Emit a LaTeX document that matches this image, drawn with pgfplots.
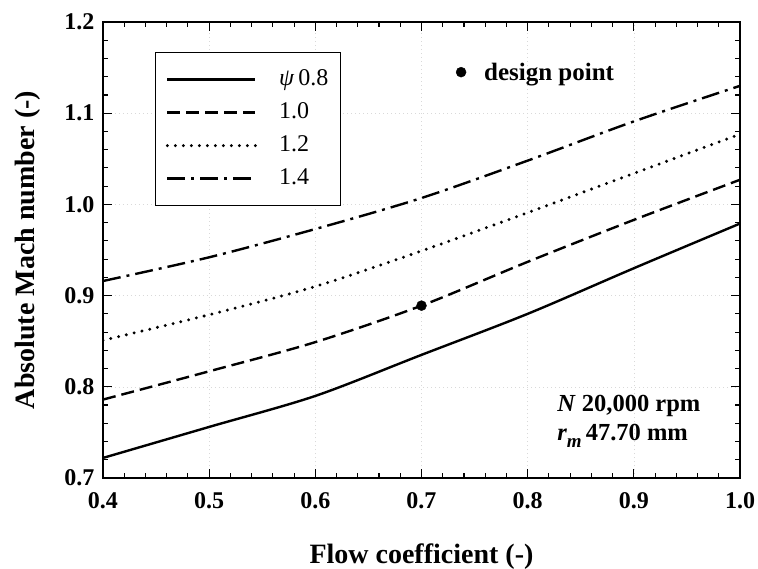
\documentclass[border=0pt]{standalone}
\usepackage{pgfplots}
\pgfplotsset{compat=1.18}
\usepackage{fontspec}
\setmainfont{Liberation Serif}

\newcommand{\tickfont}{\fontsize{24}{28}\selectfont\bfseries}
\newcommand{\labelfont}{\fontsize{28}{32}\selectfont\bfseries}

\begin{document}
\begin{tikzpicture}[x=1pt,y=1pt]
\useasboundingbox (-103,-90) rectangle (655,478);
\begin{axis}[
  at={(0,0)}, anchor=south west,
  scale only axis, width=637pt, height=456pt,
  xmin=0.4, xmax=1.0, ymin=0.7, ymax=1.2,
  xtick={0.4,0.5,0.6,0.7,0.8,0.9,1.0},
  ytick={0.7,0.8,0.9,1.0,1.1,1.2},
  minor tick num=4,
  tick align=inside,
  major tick length=9pt, minor tick length=5pt,
  every tick/.style={black, line width=1.1pt},
  axis line style={line width=1.4pt},
  grid=major,
  major grid style={dash pattern=on 1pt off 3pt, gray!30, line width=0.5pt},
  /pgf/number format/assume math mode=true,
  ticklabel style={font=\tickfont},
  xticklabel style={/pgf/number format/.cd, fixed, fixed zerofill, precision=1, /tikz/yshift=-11pt},
  yticklabel style={/pgf/number format/.cd, fixed, fixed zerofill, precision=1, /tikz/xshift=-5pt},
  xlabel={Flow coefficient (-)},
  ylabel={Absolute Mach number (-)},
  label style={font=\labelfont},
  xlabel style={at={(axis description cs:0.5,-0.172)}, anchor=center},
  ylabel style={at={(axis description cs:-0.1177,0.5)}, anchor=center},
  legend style={at={(0.082,0.934)}, anchor=north west, draw=black, line width=1.1pt,
    font=\fontsize{24}{28}\selectfont, inner xsep=10pt, inner ysep=14pt,
    row sep=7pt,
    nodes={text height=17pt, text depth=5pt, inner sep=2pt},
    /tikz/every odd column/.append style={column sep=20pt}},
  legend cell align=left,
  legend image code/.code={\draw[#1] (0pt,0pt) -- (88pt,0pt);},
]
% psi = 0.8
\addplot[black, line width=2.4pt, smooth] coordinates {
  (0.4,0.722) (0.5,0.756) (0.6,0.790) (0.7,0.835) (0.8,0.880) (0.9,0.930) (1.0,0.979)};
\addlegendentry{\textit{ψ}\,0.8}
% psi = 1.0
\addplot[black, line width=2.4pt, smooth, dash pattern=on 13pt off 6pt] coordinates {
  (0.4,0.786) (0.5,0.817) (0.6,0.849) (0.7,0.889) (0.8,0.937) (0.9,0.983) (1.0,1.027)};
\addlegendentry{1.0}
% psi = 1.2
\addplot[black, line width=3.3pt, smooth, line cap=round, dash pattern=on 0pt off 8pt] coordinates {
  (0.4,0.851) (0.5,0.879) (0.6,0.910) (0.7,0.949) (0.8,0.991) (0.9,1.034) (1.0,1.077)};
\addlegendentry{1.2}
% psi = 1.4
\addplot[black, line width=2.4pt, smooth, dash pattern=on 18pt off 6pt on 3pt off 6pt] coordinates {
  (0.4,0.916) (0.5,0.942) (0.6,0.973) (0.7,1.007) (0.8,1.048) (0.9,1.091) (1.0,1.130)};
\addlegendentry{1.4}
% design point
\addplot[black, only marks, mark=*, mark size=5pt, forget plot] coordinates {(0.7,0.889)};

\node[anchor=north west, align=left, font=\fontsize{24.5}{29}\selectfont\bfseries, inner sep=0pt]
  at (axis description cs:0.713,0.182)
  {\textit{N} 20,000 rpm\\\textit{r\raisebox{-0.28em}{\fontsize{19}{19}\selectfont m}}\,47.70 mm};
\end{axis}

% key for the design point marker
\begin{axis}[
  at={(0,0)}, anchor=south west,
  scale only axis, width=637pt, height=456pt,
  xmin=0.4, xmax=1.0, ymin=0.7, ymax=1.2,
  hide axis,
  legend style={at={(0.554,0.890)}, anchor=west, draw=none, fill=none,
    font=\fontsize{25}{28}\selectfont\bfseries, inner sep=0pt,
    nodes={inner sep=0pt},
    /tikz/every odd column/.append style={column sep=18pt}},
  legend image code/.code={\draw[#1] plot coordinates {(5pt,0pt)};},
]
\addlegendimage{black, only marks, mark=*, mark size=5pt}
\addlegendentry{design point}
\end{axis}
\end{tikzpicture}
\end{document}
